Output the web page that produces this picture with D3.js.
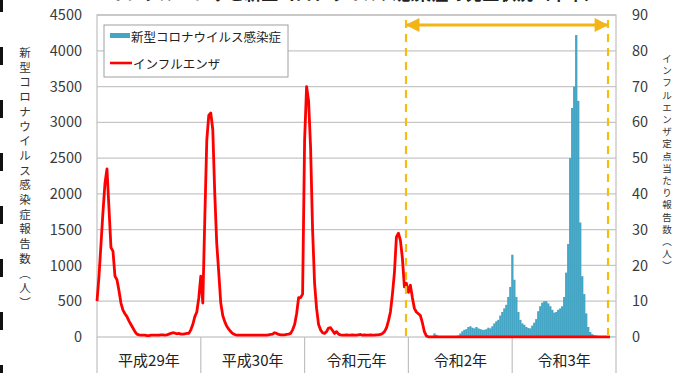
<!DOCTYPE html>
<html>
<head>
<meta charset="utf-8">
<script src="https://cdn.jsdelivr.net/npm/d3@7"></script>
<style>
  html, body { margin: 0; padding: 0; background: #fff; }
  svg { display: block; }
  text { font-family: "Noto Sans CJK JP", "Noto Sans", sans-serif; }
</style>
</head>
<body>
<svg id="chart" width="675" height="373"></svg>
<script>
// Year categories along the bottom (52 weeks each)
const years = ["平成29年", "平成30年", "令和元年", "令和2年", "令和3年"];
const weeksPerYear = 52;

// Influenza: reports per sentinel site, weekly (right axis)
const fluPerSentinel = [
  // 平成29年
  10, 17, 26, 35, 43, 47, 36, 25, 24, 17, 16, 13, 9.5, 7.5, 6.5, 5.7, 4.5, 3.5, 2.5, 1.5,
  0.8, 0.6, 0.5, 0.5, 0.5, 0.4, 0.4, 0.5, 0.5, 0.5, 0.5, 0.5, 0.6, 0.6, 0.5, 0.6,
  0.8, 1.0, 1.2, 1.1, 0.9, 1.0, 0.8, 0.8, 0.9, 1.0, 1.0, 2.0, 3.5, 5.7, 7, 11,
  // 平成30年
  17, 9.5, 33, 55, 62, 62.6, 58, 40, 26, 18, 9.5, 6, 4.3, 3, 2.2, 1.5, 1, 0.7,
  0.5, 0.5, 0.5, 0.5, 0.5, 0.5, 0.5, 0.5, 0.5, 0.5, 0.5, 0.5, 0.5, 0.5, 0.5, 0.5,
  0.6, 0.7, 0.8, 1.2, 1.0, 0.7, 0.6, 0.6, 0.6, 0.7, 0.8, 1, 2, 3.5, 6.5, 11,
  // 令和元年
  11, 12, 55, 70, 66, 53, 30, 15, 8, 3.5, 2, 1.2, 1, 1.5, 2.5, 2.6, 1.8, 1.0, 1.5, 0.8,
  0.6, 0.5, 0.5, 0.6, 0.5, 0.5, 0.6, 0.5, 0.5, 0.6, 0.7, 0.5, 0.6, 0.5, 0.5, 0.6,
  0.5, 0.5, 0.6, 0.6, 0.7, 1, 1.5, 2.5, 4.5, 7, 12, 18, 28, 29, 27, 22,
  // 令和2年
  14, 15, 12.5, 14.5, 11, 8, 7, 6.5, 6, 4, 1.5, 0.3, 0.05, 0.05, 0.05, 0.05, 0.05, 0.05,
  0.05, 0.05, 0.05, 0.05, 0.05, 0.05, 0.05, 0.05, 0.05, 0.05, 0.05, 0.05, 0.05, 0.05,
  0.05, 0.05, 0.05, 0.05, 0.05, 0.05, 0.05, 0.05, 0.05, 0.05, 0.05, 0.05, 0.05, 0.05,
  0.05, 0.05, 0.05, 0.05, 0.05, 0.05,
  // 令和3年
  0.05, 0.05, 0.05, 0.05, 0.05, 0.05, 0.05, 0.05, 0.05, 0.05, 0.05, 0.05, 0.05, 0.05,
  0.05, 0.05, 0.05, 0.05, 0.05, 0.05, 0.05, 0.05, 0.05, 0.05, 0.05, 0.05, 0.05, 0.05,
  0.05, 0.05, 0.05, 0.05, 0.05, 0.05, 0.05, 0.05, 0.05, 0.05, 0.05, 0.05, 0.05, 0.05,
  0.05, 0.05, 0.05, 0.05, 0.05, 0.05, 0.05, 0.05, 0.05, 0.05
];

// COVID-19: reported cases, weekly from the first week of 令和2年 (left axis)
const covidStartWeek = 156;
const covidCases = [
  // 令和2年
  0, 0, 0, 0, 0, 0, 0, 0, 0, 0, 0, 0, 10, 50, 30, 10, 5, 3, 2, 0, 0, 2, 3, 5, 8,
  20, 50, 80, 100, 110, 140, 150, 130, 120, 140, 120, 110, 100, 100, 110, 130, 120,
  150, 190, 220, 240, 300, 350, 400, 450, 560, 700,
  // 令和3年
  1150, 800, 560, 350, 240, 190, 170, 140, 125, 120, 160, 200, 250, 360, 430, 480,
  500, 500, 470, 430, 380, 340, 350, 380, 400, 430, 560, 900, 1300, 2500, 3200, 3500,
  4220, 3300, 1600, 850, 600, 330, 140, 70, 40, 25, 20, 15, 10, 8, 5, 5, 3, 3, 2, 2
];

const leftTicks = [0, 500, 1000, 1500, 2000, 2500, 3000, 3500, 4000, 4500];
const rightTicks = [0, 10, 20, 30, 40, 50, 60, 70, 80, 90];

// Period highlighted by the dashed bracket (in weeks)
const highlightWeeks = [154.8, 256];

const leftTitle = ["新", "型", "コ", "ロ", "ナ", "ウ", "イ", "ル", "ス", "感", "染", "症", "報", "告", "数", "︵", "人", "︶"];
const rightTitle = ["イ", "ン", "フ", "ル", "エ", "ン", "ザ", "定", "点", "当", "た", "り", "報", "告", "数", "︵", "人", "︶"];
const legendLabels = ["新型コロナウイルス感染症", "インフルエンザ"];
const chartTitle = "インフルエンザと新型コロナウイルス感染症の発生状況（本市）";

const svg = d3.select("#chart");
const W = 675, H = 373;
const plot = { left: 97, right: 616, top: 15, bottom: 337 };

const totalWeeks = years.length * weeksPerYear;
const x = d3.scaleLinear().domain([0, totalWeeks]).range([plot.left, plot.right]);
const yL = d3.scaleLinear().domain([0, 4500]).range([plot.bottom, plot.top]);
const yR = d3.scaleLinear().domain([0, 90]).range([plot.bottom, plot.top]);

// Title along the top edge (only its lower part falls inside the view)
svg.append("text")
  .attr("x", 355).attr("y", 0)
  .attr("text-anchor", "middle")
  .attr("font-size", 17).attr("font-weight", "bold")
  .attr("fill", "#222")
  .text(chartTitle);

// Page edge marks on the far left
svg.append("line")
  .attr("x1", 1.5).attr("x2", 1.5).attr("y1", 0).attr("y2", H)
  .attr("stroke", "#111").attr("stroke-width", 3)
  .attr("stroke-dasharray", "18 35")
  .attr("stroke-dashoffset", 6);

// Gridlines
svg.append("g")
  .selectAll("line")
  .data(leftTicks.filter(d => d > 0))
  .join("line")
  .attr("x1", plot.left).attr("x2", plot.right)
  .attr("y1", d => yL(d)).attr("y2", d => yL(d))
  .attr("stroke", "#c6c6c6").attr("stroke-width", 1.3);

// Plot frame
svg.append("rect")
  .attr("x", plot.left).attr("y", plot.top)
  .attr("width", plot.right - plot.left).attr("height", plot.bottom - plot.top)
  .attr("fill", "none").attr("stroke", "#c0c0c0").attr("stroke-width", 1.2);

// Left axis
const leftAxis = d3.axisLeft(yL).tickValues(leftTicks).tickFormat(d3.format("d")).tickSize(0).tickPadding(0);
const gL = svg.append("g").attr("transform", "translate(82,0)").call(leftAxis);
gL.select(".domain").remove();
gL.selectAll("text")
  .attr("font-size", 14.5).attr("fill", "#3a3a3a")
  .attr("font-family", "'Open Sans', 'Noto Sans', sans-serif");

// Right axis
const rightAxis = d3.axisRight(yR).tickValues(rightTicks).tickFormat(d3.format("d")).tickSize(0).tickPadding(0);
const gR = svg.append("g").attr("transform", "translate(632,0)").call(rightAxis);
gR.select(".domain").remove();
gR.selectAll("text")
  .attr("font-size", 14.5).attr("fill", "#3a3a3a")
  .attr("font-family", "'Open Sans', 'Noto Sans', sans-serif");

// Vertical axis titles, one character per line
svg.append("g").selectAll("text")
  .data(leftTitle)
  .join("text")
  .attr("x", 25)
  .attr("y", (d, i) => 52 + i * 14.7)
  .attr("text-anchor", "middle").attr("dominant-baseline", "central")
  .attr("font-size", 11.5).attr("fill", "#333")
  .text(d => d);

svg.append("g").selectAll("text")
  .data(rightTitle)
  .join("text")
  .attr("x", 667)
  .attr("y", (d, i) => 58 + i * 12.2)
  .attr("text-anchor", "middle").attr("dominant-baseline", "central")
  .attr("font-size", 9.5).attr("fill", "#333")
  .text(d => d);

// Category axis: year bands with dividers
const yearBand = d3.scaleBand().domain(years).range([plot.left, plot.right]).padding(0);
svg.append("g").selectAll("line")
  .data(d3.range(years.length + 1))
  .join("line")
  .attr("x1", i => x(i * weeksPerYear)).attr("x2", i => x(i * weeksPerYear))
  .attr("y1", plot.bottom).attr("y2", H)
  .attr("stroke", "#c0c0c0").attr("stroke-width", 1.2);
svg.append("g").selectAll("text")
  .data(years)
  .join("text")
  .attr("x", d => yearBand(d) + yearBand.bandwidth() / 2)
  .attr("y", 359)
  .attr("text-anchor", "middle").attr("dominant-baseline", "central")
  .attr("font-size", 15).attr("fill", "#222")
  .text(d => d);

// COVID-19 bars
const barW = x(1) - x(0);
svg.append("g").selectAll("rect")
  .data(covidCases.map((v, k) => ({ week: covidStartWeek + k, v })))
  .join("rect")
  .attr("x", d => x(d.week) - barW / 2)
  .attr("width", barW + 0.3)
  .attr("y", d => yL(d.v))
  .attr("height", d => yL(0) - yL(d.v))
  .attr("fill", "#45a5c4");

// Influenza line
const line = d3.line()
  .x((d, i) => x(i))
  .y(d => yR(d));
svg.append("path")
  .datum(fluPerSentinel)
  .attr("d", line)
  .attr("fill", "none")
  .attr("stroke", "#ff0000")
  .attr("stroke-width", 2.8)
  .attr("stroke-linejoin", "round");

// Highlighted period: dashed bounds and double arrow
const hl = svg.append("g");
hl.selectAll("line.bound")
  .data(highlightWeeks)
  .join("line")
  .attr("class", "bound")
  .attr("x1", d => x(d)).attr("x2", d => x(d))
  .attr("y1", 20).attr("y2", plot.bottom)
  .attr("stroke", "#f5bd10").attr("stroke-width", 2.2)
  .attr("stroke-dasharray", "8 6");

const defs = svg.append("defs");
defs.append("marker")
  .attr("id", "arrowhead").attr("viewBox", "0 0 10 10")
  .attr("refX", 9).attr("refY", 5)
  .attr("markerWidth", 5.5).attr("markerHeight", 4.6)
  .attr("markerUnits", "strokeWidth")
  .attr("orient", "auto-start-reverse")
  .append("path").attr("d", "M0,0 L10,5 L0,10 Z").attr("fill", "#f2b417");

hl.append("line")
  .attr("x1", x(highlightWeeks[0]) + 1).attr("x2", x(highlightWeeks[1]) - 1)
  .attr("y1", 25).attr("y2", 25)
  .attr("stroke", "#f2b417").attr("stroke-width", 3)
  .attr("marker-start", "url(#arrowhead)")
  .attr("marker-end", "url(#arrowhead)");

// Legend
const lg = svg.append("g");
lg.append("rect")
  .attr("x", 104).attr("y", 25).attr("width", 184).attr("height", 52)
  .attr("fill", "#fff").attr("stroke", "#a0a0a0").attr("stroke-width", 1);
lg.append("rect")
  .attr("x", 110).attr("y", 33).attr("width", 20).attr("height", 5)
  .attr("fill", "#45a5c4");
lg.append("line")
  .attr("x1", 110).attr("x2", 132).attr("y1", 63).attr("y2", 63)
  .attr("stroke", "#ff0000").attr("stroke-width", 2.6);
lg.selectAll("text")
  .data(legendLabels)
  .join("text")
  .attr("x", (d, i) => i === 0 ? 131 : 133)
  .attr("y", (d, i) => i === 0 ? 36 : 63)
  .attr("dominant-baseline", "central")
  .attr("font-size", 12.5).attr("fill", "#222")
  .text(d => d);
</script>
</body>
</html>
